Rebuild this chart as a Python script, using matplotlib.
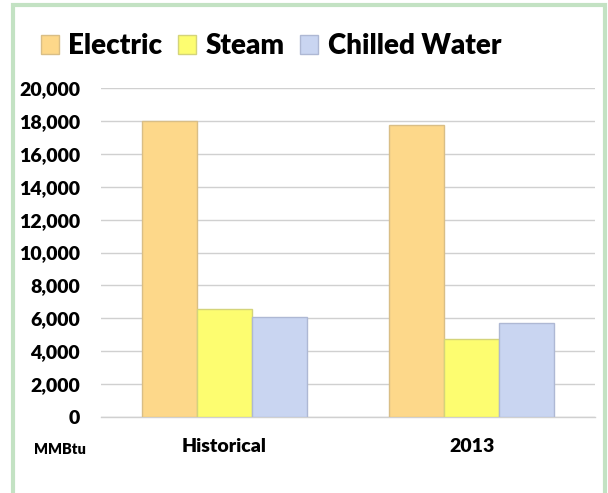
import numpy as np
import matplotlib.pyplot as plt
from matplotlib.patches import Rectangle

# Data
categories = ['Historical', '2013']
series_names = ['Electric', 'Steam', 'Chilled Water']
electric = [18000, 17750]
steam = [6550, 4720]
chilled = [6060, 5700]
colors = ['#FDD88A', '#FDFD70', '#C9D5F1']
edges = ['#D9BE86', '#D4D47A', '#AEB8D4']

plt.rcParams['font.family'] = ['Lato', 'DejaVu Sans']

fig = plt.figure(figsize=(6.08, 4.93), dpi=100)
W, H = 608, 493
ax = fig.add_axes([101 / W, 1 - 417 / H, (595 - 101) / W, (417 - 88) / H])

x = np.arange(len(categories))
width = 1 / 4.5
for i, (vals, name) in enumerate(zip([electric, steam, chilled], series_names)):
    ax.bar(x + (i - 1) * width, vals, width, color=colors[i], edgecolor=edges[i],
           linewidth=1, label=name, zorder=3)

ax.set_xlim(-0.5, 1.5)
ax.set_ylim(0, 20000)
ax.set_yticks(np.arange(0, 20001, 2000))
ax.set_yticklabels([f'{v:,}' for v in range(0, 20001, 2000)],
                   fontsize=14, fontweight='heavy')
ax.set_xticks(x)
ax.set_xticklabels(categories, fontsize=14, fontweight='heavy')
ax.tick_params(axis='both', length=0)
ax.tick_params(axis='y', pad=15)
ax.tick_params(axis='x', pad=15)
ax.yaxis.grid(True, color='#D0D0D0', linewidth=1, zorder=0)
ax.set_axisbelow(True)
for s in ['top', 'right', 'left']:
    ax.spines[s].set_visible(False)
ax.spines['bottom'].set_color('#D0D0D0')
ax.spines['bottom'].set_linewidth(1)

fig.text(34 / W, 1 - 450 / H, 'MMBtu', fontsize=10.5, fontweight='heavy', va='center')

leg = fig.legend(loc='center', bbox_to_anchor=(271 / W, 1 - 46 / H), ncol=3,
                 frameon=False, prop={'size': 20, 'weight': 'heavy'},
                 handlelength=0.65, handleheight=0.65, handletextpad=0.35,
                 columnspacing=0.55)

# green frame
fig.patches.append(Rectangle((13 / W, -0.05), (605 - 13) / W, 1.05 - 5 / H,
                             transform=fig.transFigure, fill=False,
                             edgecolor='#C3E2C3', linewidth=3))

fig.savefig('out.png', dpi=100)
